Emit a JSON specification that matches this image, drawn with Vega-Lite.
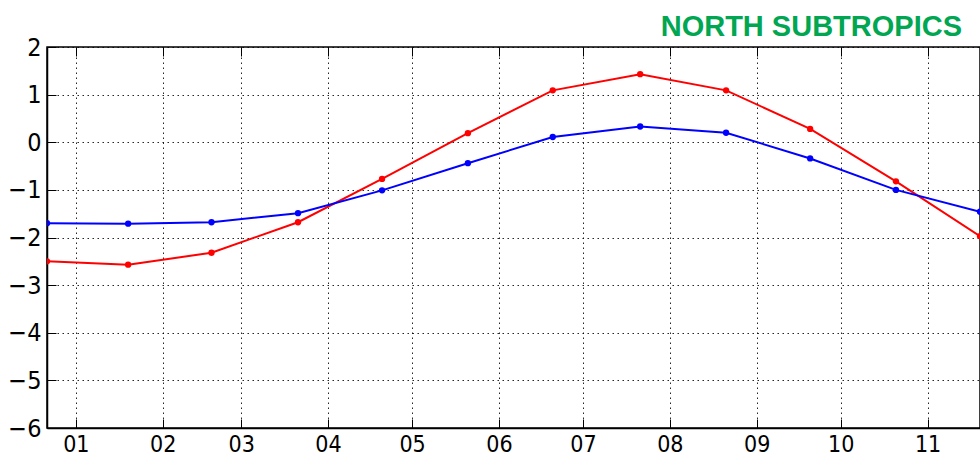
{
  "$schema": "https://vega.github.io/schema/vega-lite/v6.json",
  "width": 933,
  "height": 381,
  "autosize": {"type": "none"},
  "padding": {"left": 47, "top": 47, "right": 0, "bottom": 30},
  "background": "white",
  "config": {
    "view": {"stroke": "#000000", "strokeWidth": 1.5},
    "axis": {
      "domainColor": "#000000",
      "domainWidth": 1.5,
      "tickColor": "#000000",
      "tickWidth": 1,
      "tickSize": -9,
      "labelColor": "#000000",
      "labelFont": "Liberation Sans Narrow, DejaVu Sans Condensed, DejaVu Sans",
      "labelFontSize": 25,
      "gridColor": "#000000",
      "gridOpacity": 0.85,
      "gridWidth": 1,
      "gridDash": [1.5, 3.5]
    }
  },
  "title": {
    "text": "NORTH SUBTROPICS",
    "anchor": "end",
    "color": "#00a651",
    "font": "Liberation Sans",
    "fontSize": 29,
    "fontWeight": "bold",
    "offset": -7,
    "dx": -18
  },
  "data": {
    "values": [
      {"date": "2014-12-21T17:00", "series": "Series A", "value": -2.50},
      {"date": "2015-01-19T16:00", "series": "Series A", "value": -2.57},
      {"date": "2015-02-18T10:00", "series": "Series A", "value": -2.32},
      {"date": "2015-03-21T07:00", "series": "Series A", "value": -1.68},
      {"date": "2015-04-20T07:00", "series": "Series A", "value": -0.77},
      {"date": "2015-05-20T22:00", "series": "Series A", "value": 0.19},
      {"date": "2015-06-20T05:00", "series": "Series A", "value": 1.09},
      {"date": "2015-07-21T10:00", "series": "Series A", "value": 1.43},
      {"date": "2015-08-21T02:00", "series": "Series A", "value": 1.09},
      {"date": "2015-09-20T02:00", "series": "Series A", "value": 0.28},
      {"date": "2015-10-20T17:00", "series": "Series A", "value": -0.82},
      {"date": "2015-11-19T17:00", "series": "Series A", "value": -1.97},
      {"date": "2014-12-21T17:00", "series": "Series B", "value": -1.70},
      {"date": "2015-01-19T16:00", "series": "Series B", "value": -1.71},
      {"date": "2015-02-18T10:00", "series": "Series B", "value": -1.68},
      {"date": "2015-03-21T07:00", "series": "Series B", "value": -1.49},
      {"date": "2015-04-20T07:00", "series": "Series B", "value": -1.01},
      {"date": "2015-05-20T22:00", "series": "Series B", "value": -0.44},
      {"date": "2015-06-20T05:00", "series": "Series B", "value": 0.11},
      {"date": "2015-07-21T10:00", "series": "Series B", "value": 0.33},
      {"date": "2015-08-21T02:00", "series": "Series B", "value": 0.20},
      {"date": "2015-09-20T02:00", "series": "Series B", "value": -0.34},
      {"date": "2015-10-20T17:00", "series": "Series B", "value": -1.00},
      {"date": "2015-11-19T17:00", "series": "Series B", "value": -1.46}
    ]
  },
  "resolve": {"axis": {"x": "independent", "y": "independent"}},
  "layer": [
    {
      "mark": {"type": "line", "strokeWidth": 2, "clip": true},
      "encoding": {
        "x": {
          "field": "date",
          "type": "temporal",
          "scale": {
            "domain": [
              {"year": 2014, "month": 12, "date": 21, "hours": 17},
              {"year": 2015, "month": 11, "date": 19, "hours": 17}
            ]
          },
          "axis": {
            "orient": "bottom",
            "title": null,
            "format": "%m",
            "tickCount": {"interval": "month", "step": 1},
            "labelFontSize": 23,
            "labelPadding": 14,
            "labelFlush": false,
            "labelOverlap": false,
            "grid": true
          }
        },
        "y": {
          "field": "value",
          "type": "quantitative",
          "scale": {"domain": [-6, 2], "nice": false, "zero": false},
          "axis": {
            "orient": "left",
            "title": null,
            "values": [-6, -5, -4, -3, -2, -1, 0, 1, 2],
            "format": "d",
            "labelPadding": 15,
            "labelFlush": false,
            "labelOverlap": false,
            "grid": true
          }
        },
        "color": {
          "field": "series",
          "type": "nominal",
          "scale": {"domain": ["Series A", "Series B"], "range": ["#ff0000", "#0000ff"]},
          "legend": null
        }
      }
    },
    {
      "mark": {"type": "point", "filled": true, "size": 40, "opacity": 1, "clip": true},
      "encoding": {
        "x": {
          "field": "date",
          "type": "temporal",
          "axis": {
            "orient": "top",
            "title": null,
            "labels": false,
            "domain": false,
            "tickCount": {"interval": "month", "step": 1},
            "grid": false
          }
        },
        "y": {"field": "value", "type": "quantitative", "axis": null},
        "color": {"field": "series", "type": "nominal", "legend": null}
      }
    }
  ]
}
